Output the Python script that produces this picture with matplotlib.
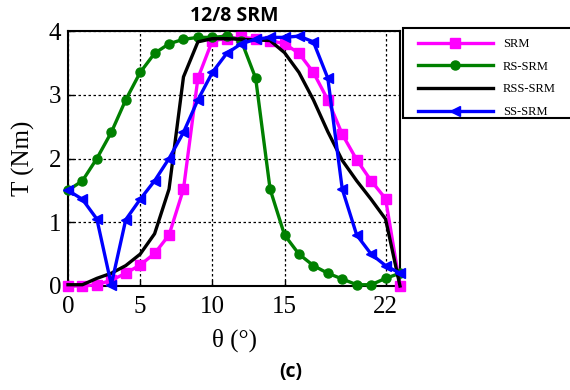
import matplotlib
matplotlib.use("Agg")
import matplotlib.pyplot as plt
from matplotlib.patches import Rectangle

theta = list(range(0, 24))
srm = [0, 0, 0.02, 0.09, 0.2, 0.33, 0.51, 0.8, 1.52, 3.26, 3.85, 3.88, 3.9, 3.88, 3.85, 3.8,
       3.65, 3.35, 2.92, 2.38, 1.98, 1.65, 1.37, 0]
rs_srm = [1.5, 1.65, 2.0, 2.41, 2.92, 3.35, 3.65, 3.8, 3.87, 3.9, 3.9, 3.92, 3.85, 3.26,
          1.52, 0.8, 0.5, 0.32, 0.2, 0.11, 0.02, 0.02, 0.12, 0.2]
rss_srm = [0.02, 0.02, 0.12, 0.2, 0.32, 0.5, 0.82, 1.52, 3.28, 3.83, 3.88, 3.88, 3.87, 3.86,
           3.85, 3.66, 3.35, 2.92, 2.42, 1.97, 1.65, 1.36, 1.05, 0]
ss_srm = [1.5, 1.36, 1.05, 0.02, 1.04, 1.36, 1.65, 2.0, 2.41, 2.92, 3.35, 3.65, 3.8, 3.87,
          3.9, 3.9, 3.92, 3.83, 3.26, 1.52, 0.8, 0.5, 0.32, 0.2]
xticks = [0, 5, 10, 15, 22]
yticks = [0, 1, 2, 3, 4]

W, H = 570, 390
fig = plt.figure(figsize=(5.7, 3.9), dpi=100)
ax = fig.add_axes([68/W, 1-286/H, (400-68)/W, (286-31)/H])

serif = ["Liberation Serif", "DejaVu Serif"]
sans = ["Open Sans", "DejaVu Sans"]
lw = 2.4
ax.plot(theta, srm, color="#ff00ff", lw=lw, marker="s", ms=6.5, label="SRM", clip_on=False, zorder=3)
ax.plot(theta, rs_srm, color="#008000", lw=lw, marker="o", ms=6.5, label="RS-SRM", clip_on=False, zorder=4)
ax.plot(theta, rss_srm, color="black", lw=lw, label="RSS-SRM", clip_on=False, zorder=5)
ax.plot(theta, ss_srm, color="#0000ff", lw=lw, marker="<", ms=6.5, label="SS-SRM", clip_on=False, zorder=6)

ax.set_xlim(0, 23)
ax.set_ylim(0, 4)
ax.set_xticks(xticks)
ax.set_yticks(yticks)
ax.set_xticklabels([str(v) for v in xticks], family=serif, fontsize=18)
ax.set_yticklabels([str(v) for v in yticks], family=serif, fontsize=18)
ax.tick_params(direction="in", length=4, width=1)
ax.tick_params(axis="x", pad=7)
ax.tick_params(axis="y", pad=5)
ax.grid(True, color="black", linestyle=(0, (2, 2)), linewidth=0.9)
for s in ax.spines.values():
    s.set_linewidth(1.5)

ax.set_xlabel("θ (°)", family=serif, fontsize=18, labelpad=8)
ax.set_ylabel("T (Nm)", family=serif, fontsize=18, labelpad=10)
fig.text(234/W, 1-16/H, "12/8 SRM", ha="center", va="center", family=sans, fontweight="bold", fontsize=14)

# legend frame (extends past the right edge like the reference)
fig.patches.append(Rectangle((403/W, 1-118/H), (580-403)/W, (118-28)/H, transform=fig.transFigure,
                             facecolor="white", edgecolor="black", linewidth=1.5, zorder=1))
leg = fig.legend(loc="upper left", bbox_to_anchor=(418/W, 1-38/H), prop={"family": serif, "size": 9},
                 frameon=False, handlelength=6.0, handletextpad=0.8,
                 labelspacing=0.85, borderpad=0, borderaxespad=0)
leg.set_zorder(2)

fig.text(291/W, 1-372/H, "(c)", ha="center", va="center", family=sans, fontweight="bold", fontsize=14)

fig.savefig("out.png", dpi=100)
